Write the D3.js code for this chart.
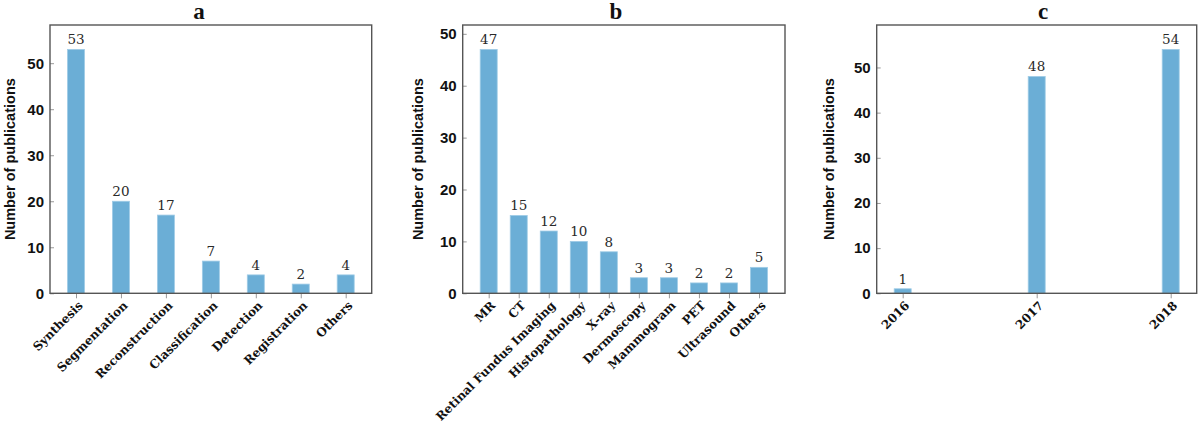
<!DOCTYPE html>
<html><head><meta charset="utf-8">
<script src="https://cdn.jsdelivr.net/npm/d3@7"></script>
<style>body{margin:0;background:#fff}</style></head><body>
<svg id="chart" width="1200" height="423"></svg>
<script>
const taskCategories = ["Synthesis","Segmentation","Reconstruction","Classification","Detection","Registration","Others"];
const taskCounts = [53,20,17,7,4,2,4];
const modalityCategories = ["MR","CT","Retinal Fundus Imaging","Histopathology","X-ray","Dermoscopy","Mammogram","PET","Ultrasound","Others"];
const modalityCounts = [47,15,12,10,8,3,3,2,2,5];
const yearCategories = ["2016","2017","2018"];
const yearCounts = [1,48,54];
const panelTitles = ["a","b","c"];
const yTicks = [0,10,20,30,40,50];
const yAxisTitle = "Number of publications";

(function(){
const panels = [
  {cats: taskCategories, vals: taskCounts, title: panelTitles[0], left: 50, right: 371.7, titleX: 199, labelX: 9.5},
  {cats: modalityCategories, vals: modalityCounts, title: panelTitles[1], left: 462.7, right: 785, titleX: 616, labelX: 418},
  {cats: yearCategories, vals: yearCounts, title: panelTitles[2], left: 876.7, right: 1196.7, titleX: 1043, labelX: 829}
];
const plotTop = 25, plotBottom = 293.3, pad = 26, barW = 17;
const svg = d3.select("#chart");

panels.forEach(p => {
  const g = svg.append("g");
  const x = d3.scalePoint().domain(p.cats).range([p.left + pad, p.right - pad]);
  const y = d3.scaleLinear().domain([0, d3.max(p.vals) * 1.1]).range([plotBottom, plotTop]);

  g.selectAll("rect.bar").data(p.cats).join("rect").attr("class","bar")
    .attr("x", c => x(c) - barW/2).attr("width", barW)
    .attr("y", (c,i) => y(p.vals[i])).attr("height", (c,i) => y(0) - y(p.vals[i]))
    .attr("fill", "#6baed6").attr("stroke", "#9fcbe6").attr("stroke-width", 0.8);

  g.selectAll("text.val").data(p.cats).join("text").attr("class","val")
    .attr("x", c => x(c)).attr("y", (c,i) => y(p.vals[i]) - 5)
    .attr("text-anchor","middle").attr("font-family","DejaVu Serif").attr("font-size", 13.5)
    .attr("fill","#2a2a2a").text((c,i) => p.vals[i]);

  const ya = g.append("g").attr("transform", `translate(${p.left},0)`)
    .call(d3.axisLeft(y).tickValues(yTicks).tickSizeInner(-4).tickSizeOuter(0).tickPadding(6));
  ya.select(".domain").remove();
  ya.selectAll(".tick line").attr("stroke","#999");
  ya.selectAll(".tick text").attr("font-family","Liberation Sans").attr("font-weight","bold")
    .attr("font-size", 15).attr("fill","#111");

  const xa = g.append("g").attr("transform", `translate(0,${plotBottom})`)
    .call(d3.axisBottom(x).tickSizeInner(5).tickSizeOuter(0));
  xa.select(".domain").remove();
  xa.selectAll(".tick line").attr("stroke","#999");
  xa.selectAll(".tick text").attr("font-family","DejaVu Serif").attr("font-weight","bold")
    .attr("font-size", 12).attr("fill","#111")
    .attr("text-anchor","end").attr("dy","0.35em").attr("y",0)
    .attr("transform","translate(4,10) rotate(-45)");

  g.append("rect").attr("x", p.left).attr("y", plotTop)
    .attr("width", p.right - p.left).attr("height", plotBottom - plotTop)
    .attr("fill","none").attr("stroke","#555").attr("stroke-width",1.4);

  g.append("text").attr("x", p.titleX).attr("y", 19).attr("text-anchor","middle")
    .attr("font-family","Liberation Serif").attr("font-weight","bold").attr("font-size",23)
    .attr("fill","#111").text(p.title);

  g.append("text").attr("transform", `translate(${p.labelX + 5},${(plotTop+plotBottom)/2}) rotate(-90)`)
    .attr("text-anchor","middle").attr("font-family","Liberation Sans").attr("font-weight","bold")
    .attr("font-size",14.5).attr("fill","#111").text(yAxisTitle);
});
})();
</script>
</body></html>
